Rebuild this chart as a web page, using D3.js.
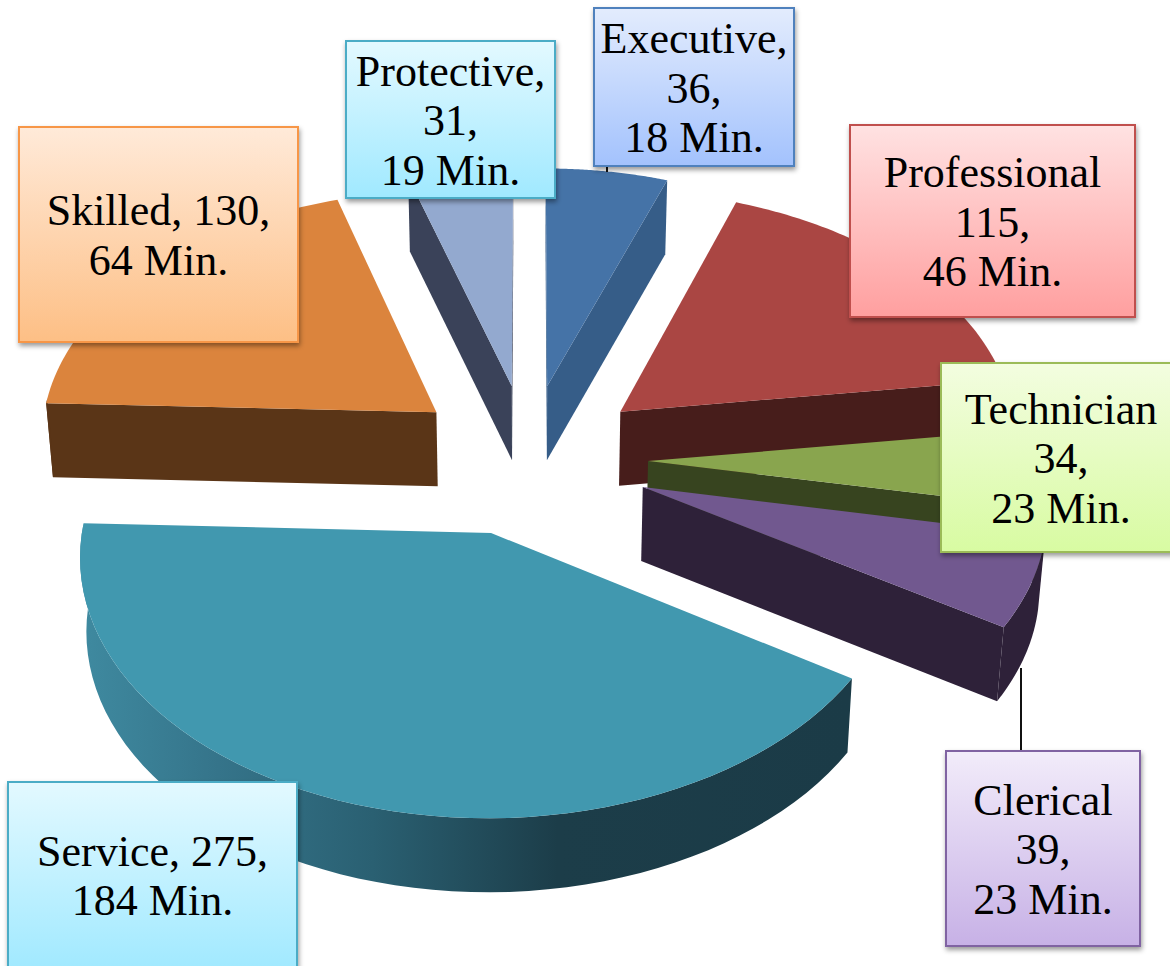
<!DOCTYPE html>
<html><head><meta charset="utf-8">
<script src="https://d3js.org/d3.v7.min.js"></script>
<style>html,body{margin:0;padding:0;background:#fff;overflow:hidden}svg{display:block}</style>
</head><body><svg id="c" width="1170" height="966"></svg>
<script>
// Data, in the pie's clockwise order starting from the top
const categories = ["Executive","Professional","Technician","Clerical","Service","Skilled","Protective"];
const counts     = [36,115,34,39,275,130,31];
const minutes    = [18,46,23,23,184,64,19];
const labelLines = [
  ["Executive,","36,","18 Min."],
  ["Professional","115,","46 Min."],
  ["Technician","34,","23 Min."],
  ["Clerical","39,","23 Min."],
  ["Service, 275,","184 Min."],
  ["Skilled, 130,","64 Min."],
  ["Protective,","31,","19 Min."]
];
// Styling
const topColors  = ["#4573a7","#aa4643","#89a54e","#71588f","#4198af","#db843d","#93a9cf"];
const sideColors = ["#365d88","#471d1b","#37441f","#2e2139","url(#serviceRim)","#5a3517","#3a4259"];
const boxStyles = [
  ["#e3ecfd","#a3c2fd","#4f81bd"],["#ffe2e2","#ff9f9f","#c0504d"],["#f3fde0","#d8fba2","#9bbb59"],
  ["#f2ecfa","#c7b1e6","#8064a2"],["#e3f9ff","#a0e9ff","#4bacc6"],["#ffead9","#fdbf85","#f79646"],["#e3f9ff","#a0e9ff","#4bacc6"]
];
// Layout: x, y, width, height of each label box
const boxes = [[594,8,200,158],[850,125,285,192],[941,363,235,189],[946,751,194,195],[8,782,289,190],[19,127,279,215],[346,41,209,157]];
const labelShift = [0,0,0,0,-2,0,0];
const explode = [115,118,118,118,138,120,120];
const nudgeX = [-2,0,0,2,3,0,-1];
const nudgeY = [0,2,4,5,-6,2,3];
const R = 398, cx = 530, cy = 455, squash = 0.62, persp = 4800, depth = 74, baseShrink = 0.986;

const svg = d3.select("#c");
const defs = svg.append("defs");
const rim = defs.append("linearGradient").attr("id","serviceRim").attr("gradientUnits","userSpaceOnUse")
  .attr("x1",80).attr("x2",850).attr("y1",0).attr("y2",0);
[[0,"#3f8aa0"],[0.18,"#35748a"],[0.38,"#2a6072"],[0.62,"#1c3d49"],[1,"#1b3b47"]].forEach(s=>rim.append("stop").attr("offset",s[0]).attr("stop-color",s[1]));
const shadow = defs.append("filter").attr("id","shadow").attr("x","-5%").attr("y","-5%").attr("width","112%").attr("height","112%");
shadow.append("feDropShadow").attr("dx",1).attr("dy",3).attr("stdDeviation",2.5).attr("flood-color","#000").attr("flood-opacity",0.4);
boxStyles.forEach((b,i)=>{
  const g = defs.append("linearGradient").attr("id","box"+i).attr("x1",0).attr("x2",0).attr("y1",0).attr("y2",1);
  g.append("stop").attr("offset",0).attr("stop-color",b[0]);
  g.append("stop").attr("offset",1).attr("stop-color",b[1]);
});

const arcs = d3.pie().sort(null).value(d=>d).startAngle(0).endAngle(2*Math.PI)(counts);

function project(X,Y,z,i){
  const s = 1/(1-Y/persp);
  const k = z ? baseShrink : 1;
  return [cx + nudgeX[i] + X*s*k, cy + nudgeY[i] + squash*Y*s + (z?depth:0)];
}
const line = d3.line();
function area2(p){let a=0;p.forEach((q,i)=>{const n=p[(i+1)%p.length];a+=q[0]*n[1]-n[0]*q[1];});return a;}

const slices = arcs.map((d,i)=>{
  const mid=(d.startAngle+d.endAngle)/2, e=explode[i];
  const ox=e*Math.sin(mid), oy=-e*Math.cos(mid);
  const pt=(a,z)=>project(ox+R*Math.sin(a),oy-R*Math.cos(a),z,i);
  const apex=z=>project(ox,oy,z,i);
  const samples=d3.range(0,61).map(t=>d.startAngle+(d.endAngle-d.startAngle)*t/60);
  return {i,d,pt,apex,samples};
});
// painter's order: back to front
const order=[0,6,5,1,2,3,4];
const root=svg.append("g");
order.forEach(i=>{
  const s=slices[i], g=root.append("g").attr("class","slice").attr("data-category",categories[i]);
  const startFace=[s.apex(0),s.pt(s.d.startAngle,0),s.pt(s.d.startAngle,1),s.apex(1)];
  const endFace=[s.apex(0),s.pt(s.d.endAngle,0),s.pt(s.d.endAngle,1),s.apex(1)];
  const fill=sideColors[i];
  if(area2(startFace)<0) g.append("path").attr("d",line(startFace)+"Z").attr("fill",fill);
  if(area2(endFace)>0) g.append("path").attr("d",line(endFace)+"Z").attr("fill",fill);
  const rimA=s.samples.filter(a=>a>=Math.PI*0.5&&a<=Math.PI*1.52);
  if(rimA.length>1){
    const pts=rimA.map(a=>s.pt(a,0)).concat(rimA.slice().reverse().map(a=>s.pt(a,1)));
    g.append("path").attr("d",line(pts)+"Z").attr("fill",fill);
  }
  const top=[s.apex(0)].concat(s.samples.map(a=>s.pt(a,0)));
  g.append("path").attr("d",line(top)+"Z").attr("fill",topColors[i]);
});

// leader lines
const leaderData=[[0,607,172,607,160],[3,1021,668,1021,752]];
leaderData.forEach(l=>svg.append("line").attr("x1",l[1]).attr("y1",l[2]).attr("x2",l[3]).attr("y2",l[4]).attr("stroke","#111").attr("stroke-width",2));

// labels
categories.forEach((c,i)=>{
  const b=boxes[i], g=svg.append("g").attr("class","label");
  g.append("rect").attr("x",b[0]).attr("y",b[1]).attr("width",b[2]).attr("height",b[3])
    .attr("fill",`url(#box${i})`).attr("stroke",boxStyles[i][2]).attr("stroke-width",2).attr("filter","url(#shadow)");
  const lines=labelLines[i], lh=49.5;
  const centerX = i===2 ? 1061 : b[0]+b[2]/2;
  const centerY = b[1]+b[3]/2+labelShift[i];
  lines.forEach((t,j)=>{
    g.append("text").attr("x",centerX).attr("y",centerY+(j-(lines.length-1)/2)*lh+15.5)
      .attr("text-anchor","middle").attr("font-family","'Liberation Serif',serif").attr("font-size",44)
      .attr("fill","#000").text(t);
  });
});
</script></body></html>
